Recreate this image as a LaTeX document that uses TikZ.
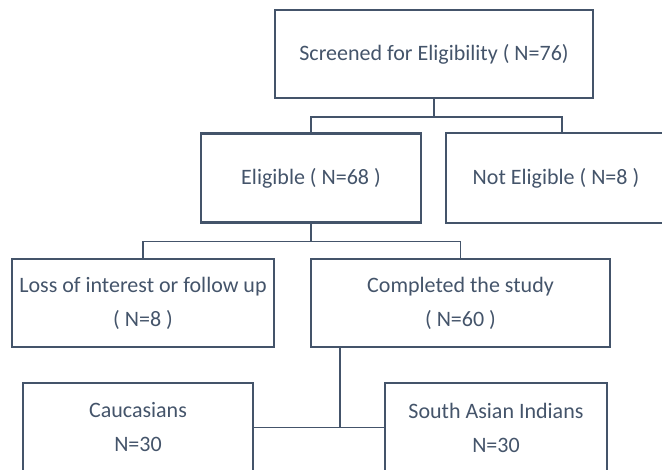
\documentclass[tikz,border=0pt]{standalone}
\usepackage{fontspec}
\setmainfont{Carlito}
\usetikzlibrary{calc}
\definecolor{slate}{HTML}{44546A}
\begin{document}
\begin{tikzpicture}[x=1pt,y=1pt,
  boxnode/.style={draw=slate, line width=2.2pt, text=slate, rectangle, inner sep=0pt,
    align=center, font=\fontsize{22}{34}\selectfont},
  conn/.style={draw=slate, line width=1.8pt}]
\useasboundingbox (0,0) rectangle (662,-470);
\node[boxnode, minimum width=318, minimum height=88] (top) at (434,-54) {Screened for Eligibility ( N=76)};
\node[boxnode, minimum width=220, minimum height=89] (elig) at (311,-178) {Eligible ( N=68 )};
\node[boxnode, minimum width=220, minimum height=90] (notelig) at (556,-178) {Not Eligible ( N=8 )};
\node[boxnode, minimum width=262, minimum height=88] (loss) at (143,-303) {Loss of interest or follow up\\( N=8 )};
\node[boxnode, minimum width=299, minimum height=88] (comp) at (460.5,-303) {Completed the study\\( N=60 )};
\node[boxnode, minimum width=230, minimum height=89] (cauc) at (138,-427.5) {Caucasians\\N=30};
\node[boxnode, minimum width=222, minimum height=89] (sai) at (496,-427.5) {South Asian Indians\\N=30};
% connectors
\draw[conn] (top.south) -- ++(0,-18) coordinate (j1);
\coordinate (ne) at ($(notelig.north)+(6,0)$);
\draw[conn] (elig.north) |- (j1) -| (ne);
\draw[conn] (elig.south) -- ++(0,-18) coordinate (j2);
\draw[conn] (loss.north) |- (j2) -| (comp.north);
\coordinate (c1) at ($(comp.south west)+(30,0)$);
\draw[conn] (c1) -- (c1 |- cauc.east);
\draw[conn] (cauc.east) -- (sai.west);
\end{tikzpicture}
\end{document}
